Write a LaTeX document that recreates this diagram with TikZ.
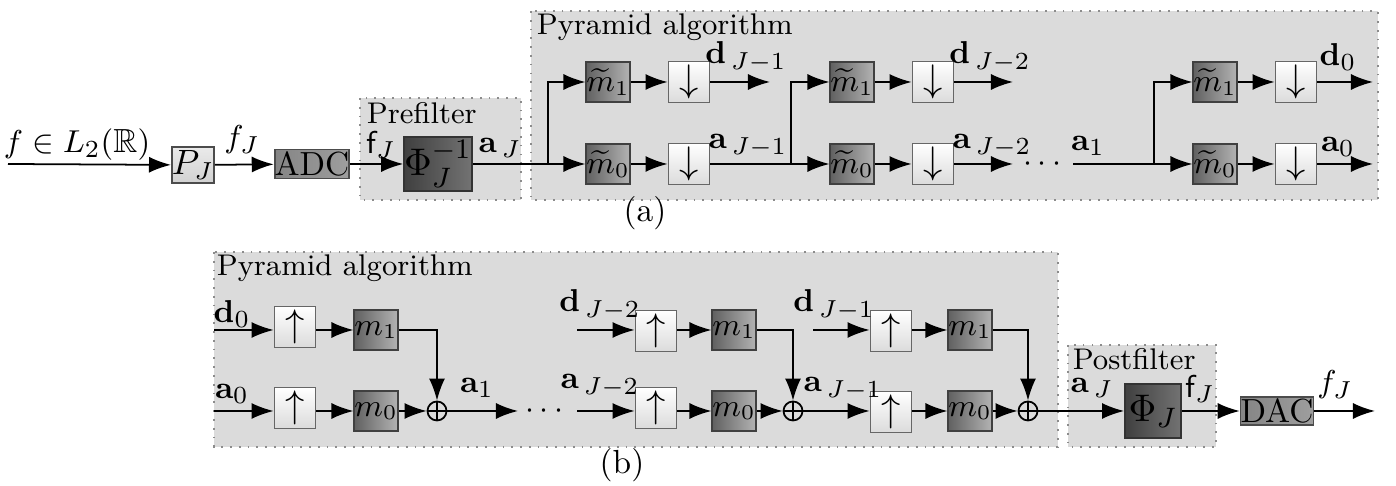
\documentclass[tikz,border=0pt]{standalone}
\usepackage{amsmath,amssymb}
\usepackage{tikz}
\usetikzlibrary{arrows.meta,positioning}

\begin{document}
\begin{tikzpicture}[x=0.01cm, y=-0.01cm, font=\fontsize{8.5}{10}\selectfont,
  >={Latex[length=2.2mm,width=1.6mm]}, line width=0.5pt,
  grp/.style={draw=black!45, dotted, fill=black!14},
  grplbl/.style={anchor=west, inner sep=0pt},
  lbl/.style={inner sep=0pt, font=\fontsize{9.5}{11}\selectfont},
  lite/.style={draw=black!70, top color=black!8, bottom color=black!18, inner sep=0pt, font=\fontsize{10}{12}\selectfont},
  mbox/.style={draw=black!75, left color=black!62, right color=black!30, minimum width=0.4cm, minimum height=0.4cm, inner sep=0pt, font=\fontsize{9}{11}\selectfont},
  updn/.style={draw=black!60, top color=white, bottom color=black!14, minimum width=0.41cm, minimum height=0.41cm, inner sep=0pt, font=\fontsize{11}{13}\selectfont},
  phibox/.style={draw=black!80, left color=black!75, right color=black!55, minimum width=0.56cm, minimum height=0.54cm, inner sep=0pt, font=\fontsize{11}{13}\selectfont},
  conv/.style={draw=black!70, left color=black!48, right color=black!38, minimum width=0.71cm, minimum height=0.29cm, inner sep=0pt, font=\fontsize{9.5}{11}\selectfont},
  sum/.style={circle, draw, minimum size=0.19cm, inner sep=0pt,
    path picture={\draw (path picture bounding box.north) -- (path picture bounding box.south)
      (path picture bounding box.west) -- (path picture bounding box.east);}}]
\useasboundingbox (0,0) rectangle (1396,486);

% 枠 (a)
\draw[grp] (360,98) rectangle (521,200);
\draw[grp] (531,11) rectangle (1378,200);
\node[grplbl] (tpre) at (366,113) {Prefilter};
\node[grplbl] (tpyra) at (536,27) {Pyramid algorithm};

% ノード (a)
\coordinate (fin) at (8,164);
\node[lite, minimum width=0.4cm, minimum height=0.36cm] (pj) at (193,165) {$P_J$};
\node[conv] (adc) at (312,164) {ADC};
\node[phibox] (phiinv) at (438,164) {$\Phi_J^{-1}$};
\coordinate (br1) at (548,164);
\node[mbox] (mta1) at (608,82) {$\widetilde{m}_1$};
\node[mbox] (mta0) at (608,164) {$\widetilde{m}_0$};
\node[updn] (dna1) at (689,82) {$\downarrow$};
\node[updn] (dna0) at (689,164) {$\downarrow$};
\coordinate (da1) at (770,82);
\coordinate (br2) at (791,164);
\node[mbox] (mtb1) at (852,82) {$\widetilde{m}_1$};
\node[mbox] (mtb0) at (852,164) {$\widetilde{m}_0$};
\node[updn] (dnb1) at (933,82) {$\downarrow$};
\node[updn] (dnb0) at (933,164) {$\downarrow$};
\coordinate (db2) at (1013,82);
\coordinate (ab2) at (1013,164);
\node[lbl] (dotsa) at (1045,164) {$\cdots$};
\coordinate (aa1) at (1073,164);
\coordinate (br3) at (1154,164);
\node[mbox] (mtc1) at (1215,82) {$\widetilde{m}_1$};
\node[mbox] (mtc0) at (1215,164) {$\widetilde{m}_0$};
\node[updn] (dnc1) at (1296,82) {$\downarrow$};
\node[updn] (dnc0) at (1296,164) {$\downarrow$};
\coordinate (dc0) at (1373,82);
\coordinate (ac0) at (1373,164);

% 矢印 (a)
\draw[->] (fin) -- (pj);
\draw[->] (pj) -- (adc);
\draw[->] (adc) -- (phiinv);
\draw (phiinv) -- (br1);
\draw[->] (br1) -- (mta0);
\draw[->] (br1) |- (mta1);
\draw[->] (mta1) -- (dna1);
\draw[->] (mta0) -- (dna0);
\draw[->] (dna1) -- (da1);
\draw (dna0) -- (br2);
\draw[->] (br2) -- (mtb0);
\draw[->] (br2) |- (mtb1);
\draw[->] (mtb1) -- (dnb1);
\draw[->] (mtb0) -- (dnb0);
\draw[->] (dnb1) -- (db2);
\draw[->] (dnb0) -- (ab2);
\draw (aa1) -- (br3);
\draw[->] (br3) -- (mtc0);
\draw[->] (br3) |- (mtc1);
\draw[->] (mtc1) -- (dnc1);
\draw[->] (mtc0) -- (dnc0);
\draw[->] (dnc1) -- (dc0);
\draw[->] (dnc0) -- (ac0);

% 注記 (a)
\node[lbl] (tf) at (77,145) {$f\in L_2(\mathbb{R})$};
\node[lbl] (tfj) at (242,140) {$f_J$};
\node[lbl] (tsfj) at (381,145) {$\mathsf{f}_J$};
\node[lbl] (taj) at (500,148) {$\mathbf{a}_{\,J}$};
\node[lbl] (tda1) at (746,57) {$\mathbf{d}_{\,J-1}$};
\node[lbl] (taa1) at (748,146) {$\mathbf{a}_{\,J-1}$};
\node[lbl] (tdb2) at (990,57) {$\mathbf{d}_{\,J-2}$};
\node[lbl] (tab2) at (992,146) {$\mathbf{a}_{\,J-2}$};
\node[lbl] (ta1) at (1088,146) {$\mathbf{a}_1$};
\node[lbl] (tdc0) at (1338,57) {$\mathbf{d}_0$};
\node[lbl] (tac0) at (1338,147) {$\mathbf{a}_0$};
\node[lbl] (capa) at (645,213) {(a)};

% 枠 (b)
\draw[grp] (214,252) rectangle (1058,447);
\draw[grp] (1068,345) rectangle (1216,447);
\node[grplbl] (tpyrb) at (216,268) {Pyramid algorithm};
\node[grplbl] (tpost) at (1072,359) {Postfilter};

% ノード (b)
\coordinate (ind0) at (214,330);
\coordinate (ina0) at (214,411);
\node[updn] (upa1) at (295,327) {$\uparrow$};
\node[updn] (upa0) at (295,408) {$\uparrow$};
\node[mbox] (ma1) at (376,330) {$m_1$};
\node[mbox] (ma0) at (376,411) {$m_0$};
\node[sum] (s1) at (437,411) {};
\coordinate (oa1) at (518,411);
\node[lbl] (dotsb) at (547,411) {$\cdots$};
\coordinate (indj2) at (577,330);
\coordinate (inaj2) at (577,411);
\node[updn] (upb1) at (656,331) {$\uparrow$};
\node[updn] (upb0) at (656,408) {$\uparrow$};
\node[mbox] (mb1) at (734,330) {$m_1$};
\node[mbox] (mb0) at (734,411) {$m_0$};
\node[sum] (s2) at (793,411) {};
\coordinate (indj1) at (813,330);
\node[updn] (upc1) at (891,331) {$\uparrow$};
\node[updn] (upc0) at (891,412) {$\uparrow$};
\node[mbox] (mc1) at (970,330) {$m_1$};
\node[mbox] (mc0) at (970,411) {$m_0$};
\node[sum] (s3) at (1028,411) {};
\node[phibox] (phij) at (1153,411) {$\Phi_J$};
\node[conv, minimum height=0.28cm] (dac) at (1277,411) {DAC};
\coordinate (fout) at (1375,411);

% 矢印 (b)
\draw[->] (ind0) -- (ind0 -| upa1.west);
\draw[->] (ina0) -- (ina0 -| upa0.west);
\draw[->] (upa1.east |- ma1) -- (ma1);
\draw[->] (upa0.east |- ma0) -- (ma0);
\draw[->] (ma1) -| (s1);
\draw[->] (ma0) -- (s1);
\draw[->] (s1) -- (oa1);
\draw[->] (indj2) -- (indj2 -| upb1.west);
\draw[->] (inaj2) -- (inaj2 -| upb0.west);
\draw[->] (upb1.east |- mb1) -- (mb1);
\draw[->] (upb0.east |- mb0) -- (mb0);
\draw[->] (mb1) -| (s2);
\draw[->] (mb0) -- (s2);
\draw[->] (s2) -- (s2 -| upc0.west);
\draw[->] (indj1) -- (indj1 -| upc1.west);
\draw[->] (upc1.east |- mc1) -- (mc1);
\draw[->] (upc0.east |- mc0) -- (mc0);
\draw[->] (mc1) -| (s3);
\draw[->] (mc0) -- (s3);
\draw[->] (s3) -- (phij);
\draw[->] (phij) -- (dac);
\draw[->] (dac) -- (fout);

% 注記 (b)
\node[lbl] (tdb0) at (232,314) {$\mathbf{d}_0$};
\node[lbl] (tab0) at (232,394) {$\mathbf{a}_0$};
\node[lbl] (tab1) at (477,388) {$\mathbf{a}_1$};
\node[lbl] (tdbj2) at (600,305) {$\mathbf{d}_{\,J-2}$};
\node[lbl] (tabj2) at (600,386) {$\mathbf{a}_{\,J-2}$};
\node[lbl] (tdbj1) at (834,305) {$\mathbf{d}_{\,J-1}$};
\node[lbl] (tabj1) at (843,389) {$\mathbf{a}_{\,J-1}$};
\node[lbl] (tpaj) at (1092,388) {$\mathbf{a}_{\,J}$};
\node[lbl] (tpfj) at (1200,389) {$\mathsf{f}_J$};
\node[lbl] (tfo) at (1335,385) {$f_J$};
\node[lbl] (capb) at (622,465) {(b)};
\end{tikzpicture}
\end{document}
